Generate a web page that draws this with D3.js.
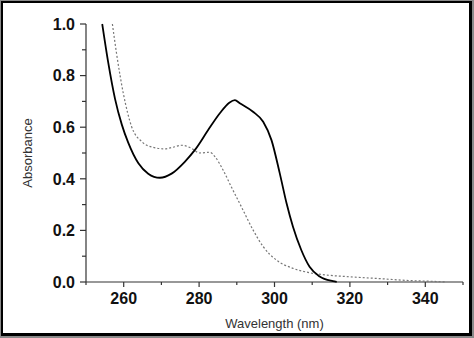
<!DOCTYPE html>
<html><head><meta charset="utf-8">
<script src="https://cdn.jsdelivr.net/npm/d3@7"></script>
<style>
html,body{margin:0;padding:0;background:#fff;}
svg{display:block;font-family:"Liberation Sans",Arial,sans-serif;}
</style></head>
<body>
<svg id="c" width="474" height="338"></svg>
<script>
// Solid spectrum [wavelength nm, absorbance]
const solidWl  = [254.3,255.9,257.7,259.5,261.2,263.9,266.5,269.6,272.7,276.2,278.9,282.4,285.5,288.0,289.5,290.8,294.3,297.0,299.2,301.4,303.2,304.9,307.1,309.3,312.0,315.5,316.5];
const solidAbs = [1.0,0.85,0.71,0.61,0.54,0.46,0.42,0.404,0.42,0.466,0.512,0.589,0.654,0.695,0.705,0.693,0.660,0.621,0.550,0.421,0.305,0.214,0.124,0.059,0.021,0.003,0.0];
// Dotted spectrum
const dotWl  = [257.0,258.1,259.9,262.1,264.8,267.8,270.9,273.0,275.4,278.0,280.2,282.8,284.2,286.5,288.5,291.2,294.3,297.0,300.5,304.9,309.3,313.8,319.1,327.9,336.7,341.1,345.5];
const dotAbs = [1.0,0.886,0.731,0.602,0.544,0.522,0.516,0.522,0.530,0.518,0.500,0.503,0.486,0.43,0.37,0.292,0.202,0.137,0.085,0.053,0.036,0.027,0.021,0.013,0.005,0.003,0.0];
// Axis ticks
const xMajor = [260,280,300,320,340];
const xMinor = [250,270,290,310,330,350];
const yMajor = [0.0,0.2,0.4,0.6,0.8,1.0];
const yMinor = [0.1,0.3,0.5,0.7,0.9];
const xTitle = "Wavelength (nm)";
const yTitle = "Absorbance";

const svg = d3.select("#c");
// frame
svg.append("rect").attr("x",0).attr("y",0).attr("width",474).attr("height",338).attr("fill","#8a8a8a");
svg.append("rect").attr("x",1).attr("y",1).attr("width",471).attr("height",335).attr("fill","#000");
svg.append("rect").attr("x",3).attr("y",3).attr("width",466).attr("height",330).attr("fill","#fff");

const x = d3.scaleLinear().domain([250,350]).range([86,463]);
const y = d3.scaleLinear().domain([0,1]).range([282,24]);
const axisCol = "#333";

// x axis
const gx = svg.append("g").attr("transform","translate(0,282)");
gx.append("line").attr("x1",x(250)).attr("x2",x(350)).attr("stroke",axisCol).attr("stroke-width",1.2);
gx.selectAll(".xm").data(xMajor).join("line").attr("x1",d=>x(d)).attr("x2",d=>x(d)).attr("y1",0).attr("y2",5).attr("stroke",axisCol).attr("stroke-width",1.2);
gx.selectAll(".xn").data(xMinor).join("line").attr("x1",d=>x(d)).attr("x2",d=>x(d)).attr("y1",0).attr("y2",3).attr("stroke",axisCol).attr("stroke-width",1.2);
gx.selectAll("text").data(xMajor).join("text").attr("x",d=>x(d)).attr("y",22).attr("text-anchor","middle")
  .attr("font-size",16).attr("font-weight","bold").attr("fill","#111").text(d=>d);

// y axis
const gy = svg.append("g").attr("transform","translate(86,0)");
gy.append("line").attr("y1",y(0)).attr("y2",y(1)).attr("stroke",axisCol).attr("stroke-width",1.2);
gy.selectAll(".ym").data(yMajor).join("line").attr("y1",d=>y(d)).attr("y2",d=>y(d)).attr("x1",0).attr("x2",-6).attr("stroke",axisCol).attr("stroke-width",1.2);
gy.selectAll(".yn").data(yMinor).join("line").attr("y1",d=>y(d)).attr("y2",d=>y(d)).attr("x1",0).attr("x2",-4).attr("stroke",axisCol).attr("stroke-width",1.2);
gy.selectAll("text").data(yMajor).join("text").attr("x",-11).attr("y",d=>y(d)).attr("dy","0.36em").attr("text-anchor","end")
  .attr("font-size",16).attr("font-weight","bold").attr("fill","#111").text(d=>d3.format(".1f")(d));

// titles
svg.append("text").attr("x",274.5).attr("y",328).attr("text-anchor","middle").attr("font-size",13).attr("fill","#333").text(xTitle);
svg.append("text").attr("transform","translate(32,153) rotate(-90)").attr("text-anchor","middle").attr("font-size",13).attr("fill","#333").text(yTitle);

const line = d3.line().x(d=>x(d[0])).y(d=>y(d[1])).curve(d3.curveMonotoneX);
const solid = solidWl.map((w,i)=>[w,solidAbs[i]]);
const dot = dotWl.map((w,i)=>[w,dotAbs[i]]);
svg.append("path").attr("d",line(dot)).attr("fill","none").attr("stroke","#777").attr("stroke-width",1.2).attr("stroke-dasharray","2,2");
svg.append("path").attr("d",line(solid)).attr("fill","none").attr("stroke","#000").attr("stroke-width",1.8);
</script>
</body></html>
